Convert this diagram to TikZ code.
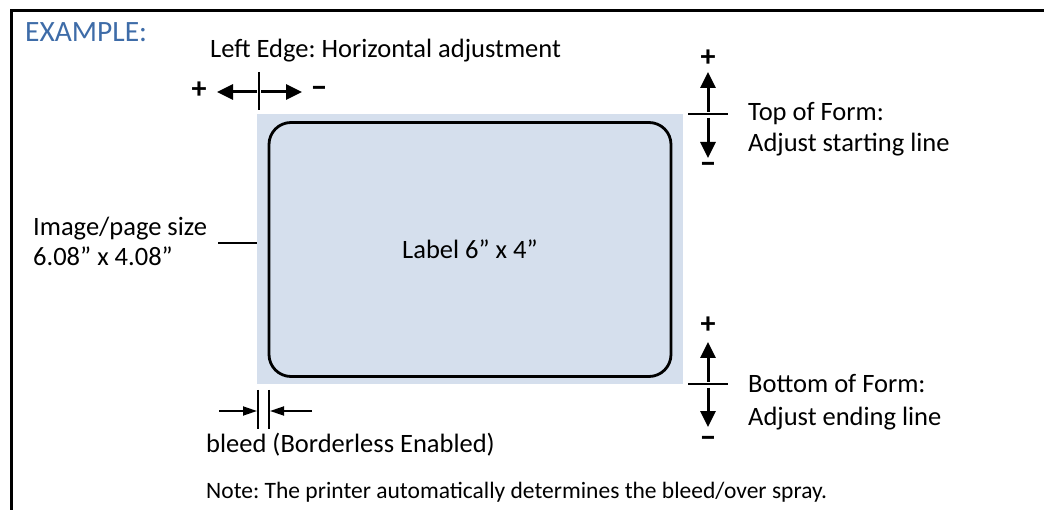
\documentclass[tikz,border=0pt]{standalone}
\usepackage{fontspec}
\setmainfont{Carlito}
\usetikzlibrary{arrows.meta}
\definecolor{bleedblue}{RGB}{213,223,237}
\definecolor{exblue}{RGB}{62,108,168}
\frenchspacing
\begin{document}
\frenchspacing
\begin{tikzpicture}[x=1pt,y=-1pt,
  txt/.style={inner sep=0pt, font=\fontsize{26.5}{31}\selectfont},
  pm/.style={inner sep=0pt, font=\fontsize{30}{31}\selectfont\bfseries},
  mn/.style={inner sep=0pt, font=\fontsize{34}{31}\selectfont\bfseries},
  notetxt/.style={inner sep=0pt, font=\fontsize{23.5}{26}\selectfont},
  big/.style={line width=3pt, -{Triangle[length=16pt,width=15pt]}},
  small/.style={line width=1.8pt, -{Triangle[length=14pt,width=9pt]}},
  tick/.style={line width=2pt}]
\useasboundingbox (0,0) rectangle (1044,510);
% frame
\coordinate (f1) at (1044,11);
\coordinate (f2) at (11,11);
\coordinate (f3) at (11,510);
\draw[line width=3pt] (f1) -- (f2) -- (f3);
% title
\node[inner sep=0pt, font=\fontsize{29.5}{31}\selectfont, text=exblue, anchor=base west] (ex) at (25,42) {EXAMPLE:};
% bleed area and label
\node[fill=bleedblue, draw=none, inner sep=0pt, minimum width=426pt, minimum height=270pt] (bleed) at (470,249) {};
\node[draw, line width=2.8pt, rounded corners=22pt, fill=bleedblue, inner sep=0pt,
      minimum width=402pt, minimum height=254pt, font=\fontsize{26.5}{31}\selectfont] (label) at (470,249.5) {Label 6” x 4”};
% left edge
\node[txt, anchor=base west] (le) at (210,58) {Left Edge: Horizontal adjustment};
\coordinate (lt1) at (259,72);
\coordinate (lt2) at (259,110);
\draw[tick] (lt1) -- (lt2);
\coordinate (lcl) at (257,92);
\coordinate (lcr) at (261,92);
\coordinate (ll) at (217,92);
\coordinate (lr) at (302,92);
\draw[big] (lcl) -- (ll);
\draw[big] (lcr) -- (lr);
\node[pm] (lplus) at (199,90) {+};
\node[mn] (lminus) at (319,92) {–};
% image/page size
\node[txt, anchor=base west] (img1) at (33,236) {Image/page size};
\node[txt, anchor=base west] (img2) at (33,266) {6.08” x 4.08”};
\coordinate (il) at (218,243);
\draw[tick] (il) -- (il -| bleed.west);
% top of form
\coordinate (ttl) at (688,114);
\coordinate (ttr) at (728,114);
\draw[tick] (ttl) -- (ttr);
\coordinate (tu0) at (708,112);
\coordinate (tu1) at (708,72);
\coordinate (td0) at (708,118);
\coordinate (td1) at (708,158);
\draw[big] (tu0) -- (tu1);
\draw[big] (td0) -- (td1);
\node[pm] (tplus) at (708,58) {+};
\node[mn] (tminus) at (708,168) {–};
\node[txt, anchor=base west] (top1) at (748,121) {Top of Form:};
\node[txt, anchor=base west] (top2) at (748,152) {Adjust starting line};
% bottom of form
\coordinate (btl) at (688,384);
\coordinate (btr) at (728,384);
\draw[tick] (btl) -- (btr);
\coordinate (bu0) at (708,382);
\coordinate (bu1) at (708,342);
\coordinate (bd0) at (708,388);
\coordinate (bd1) at (708,427);
\draw[big] (bu0) -- (bu1);
\draw[big] (bd0) -- (bd1);
\node[pm] (bplus) at (708,325) {+};
\node[mn] (bminus) at (708,442) {–};
\node[txt, anchor=base west] (bot1) at (748,392) {Bottom of Form:};
\node[txt, anchor=base west] (bot2) at (748,425) {Adjust ending line};
% bleed marks
\coordinate (bl1a) at (258,390);
\coordinate (bl1b) at (258,429);
\coordinate (bl2a) at (269,390);
\coordinate (bl2b) at (269,429);
\draw[tick] (bl1a) -- (bl1b);
\draw[tick] (bl2a) -- (bl2b);
\coordinate (ba0) at (219,411);
\coordinate (ba1) at (257,411);
\coordinate (bb0) at (312,411);
\coordinate (bb1) at (270,411);
\draw[small] (ba0) -- (ba1);
\draw[small] (bb0) -- (bb1);
\node[txt, anchor=base west] (bleedtxt) at (206,452) {bleed (Borderless Enabled)};
\node[notetxt, anchor=base west] (note) at (206,498) {Note: The printer automatically determines the bleed/over spray.};
\end{tikzpicture}
\end{document}
